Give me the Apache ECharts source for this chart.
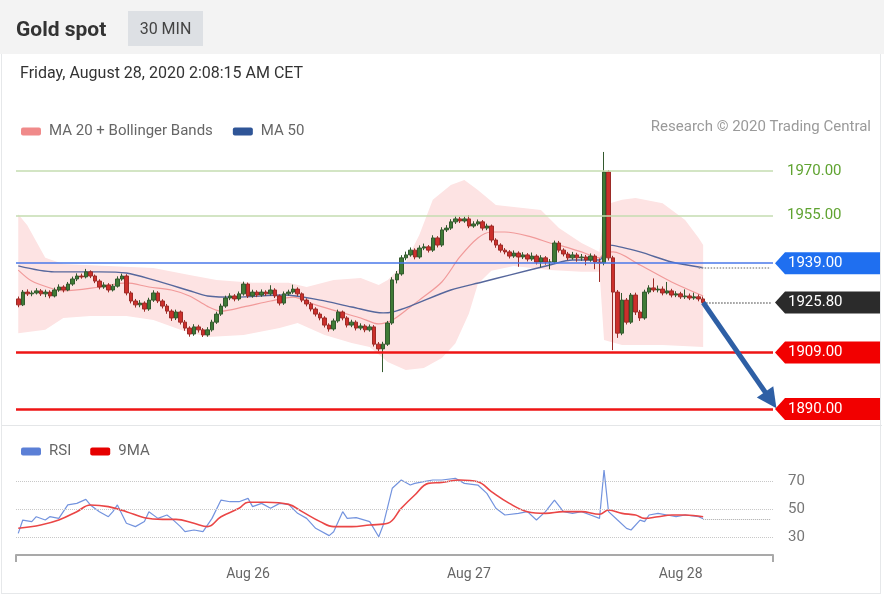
<!DOCTYPE html>
<html><head><meta charset="utf-8">
<script src="https://cdn.jsdelivr.net/npm/echarts@6/dist/echarts.min.js"></script>
<style>
html,body{margin:0;padding:0;background:#fff;}
#wrap{position:relative;width:884px;height:600px;overflow:hidden;font-family:Roboto,"Noto Sans",sans-serif;}
#frame{position:absolute;left:1px;top:0;width:880px;height:594px;border:1px solid #e6e8ea;box-sizing:border-box;}
#sep{position:absolute;left:2px;top:425px;width:880px;height:1px;background:#e4e6e8;}
#hdr{position:absolute;left:0;top:0;width:884px;height:54px;background:#f3f3f3;}
#title{position:absolute;left:16px;top:15px;font-size:21px;font-weight:bold;color:#333;line-height:28px;}
#tf{position:absolute;left:128px;top:11px;width:75px;height:35px;background:#dde0e4;color:#444;font-size:16px;line-height:35px;text-align:center;}
#date{position:absolute;left:20px;top:62px;font-size:16px;color:#333;line-height:22px;}
#chart{position:absolute;left:0;top:0;width:884px;height:600px;}
</style></head>
<body>
<div id="wrap">
  <div id="frame"></div>
  <div id="sep"></div>
  <div id="chart"></div>
  <div id="hdr"><div id="title">Gold spot</div><div id="tf">30 MIN</div></div>
  <div id="date">Friday, August 28, 2020 2:08:15 AM CET</div>
</div>
<script>
// ---------- DATA ----------
const slotCount = 168;
const dayLabelIndex = [51, 100, 147];
const dayLabelText = ['Aug 26', 'Aug 27', 'Aug 28'];

const opens = [1927.0,1925.0,1929.3,1928.7,1929.0,1929.7,1928.7,1929.3,1928.0,1930.0,
 1931.0,1930.0,1932.0,1933.7,1934.7,1934.4,1936.1,1934.7,1933.0,1931.0,
 1931.7,1930.0,1931.3,1933.7,1934.7,1929.0,1926.3,1925.0,1925.6,1923.6,
 1926.6,1929.0,1926.3,1924.6,1922.9,1920.6,1922.6,1919.2,1917.2,1915.2,
 1917.6,1916.6,1914.9,1916.6,1919.2,1921.9,1924.6,1927.3,1928.0,1927.0,
 1928.7,1932.0,1928.0,1929.3,1928.3,1929.3,1928.7,1930.0,1928.0,1925.6,
 1928.7,1929.3,1930.3,1928.7,1926.6,1925.3,1923.6,1921.9,1920.6,1918.2,
 1916.9,1919.6,1922.6,1920.6,1918.2,1919.2,1917.2,1917.9,1916.6,1917.6,
 1911.8,1910.2,1911.8,1918.9,1933.4,1935.4,1940.8,1941.8,1943.4,1941.1,
 1944.1,1944.5,1943.4,1947.5,1945.1,1950.2,1950.8,1952.9,1953.9,1953.2,
 1953.9,1951.5,1952.2,1952.9,1950.8,1951.5,1946.8,1945.1,1943.4,1942.8,
 1941.4,1942.4,1941.1,1941.8,1940.4,1941.4,1939.4,1940.8,1939.4,1939.4,
 1945.8,1943.4,1942.1,1940.8,1941.8,1940.8,1941.1,1940.1,1941.4,1939.4,
 1939.1,1969.7,1940.8,1929.3,1915.5,1926.6,1919.2,1928.3,1922.6,1920.6,
 1929.3,1930.7,1930.0,1930.3,1929.0,1929.7,1928.3,1928.7,1927.7,1928.0,
 1927.3,1927.7,1927.0];
const closes = [1925.0,1929.3,1928.7,1929.0,1929.7,1928.7,1929.3,1928.0,1930.0,1931.0,
 1930.0,1932.0,1933.7,1934.7,1934.4,1936.1,1934.7,1933.0,1931.0,1931.7,
 1930.0,1931.3,1933.7,1934.7,1929.0,1926.3,1925.0,1925.6,1923.6,1926.6,
 1929.0,1926.3,1924.6,1922.9,1920.6,1922.6,1919.2,1917.2,1915.2,1917.6,
 1916.6,1914.9,1916.6,1919.2,1921.9,1924.6,1927.3,1928.0,1927.0,1928.7,
 1932.0,1928.0,1929.3,1928.3,1929.3,1928.7,1930.0,1928.0,1925.6,1928.7,
 1929.3,1930.3,1928.7,1926.6,1925.3,1923.6,1921.9,1920.6,1918.2,1916.9,
 1919.6,1922.6,1920.6,1918.2,1919.2,1917.2,1917.9,1916.6,1917.6,1911.8,
 1910.2,1911.8,1918.9,1933.4,1935.4,1940.8,1941.8,1943.4,1941.1,1944.1,
 1944.5,1943.4,1947.5,1945.1,1950.2,1950.8,1952.9,1953.9,1953.2,1953.9,
 1951.5,1952.2,1952.9,1950.8,1951.5,1946.8,1945.1,1943.4,1942.8,1941.4,
 1942.4,1941.1,1941.8,1940.4,1941.4,1939.4,1940.8,1939.4,1939.4,1945.8,
 1943.4,1942.1,1940.8,1941.8,1940.8,1941.1,1940.1,1941.4,1939.4,1939.1,
 1969.7,1940.8,1929.3,1915.5,1926.6,1919.2,1928.3,1922.6,1920.6,1929.3,
 1930.7,1930.0,1930.3,1929.0,1929.7,1928.3,1928.7,1927.7,1928.0,1927.3,
 1927.7,1927.0,1925.8];
const highs = [1927.8,1930.0,1930.2,1929.8,1930.6,1930.3,1930.1,1929.9,1930.8,1931.9,
 1931.6,1932.7,1934.5,1935.6,1935.5,1937.1,1936.6,1935.2,1933.6,1932.6,
 1932.3,1932.0,1934.6,1935.5,1935.3,1929.6,1927.0,1926.6,1926.2,1927.4,
 1929.9,1929.6,1926.9,1925.3,1923.5,1923.4,1923.1,1919.9,1917.8,1918.5,
 1918.3,1917.2,1917.5,1920.0,1922.7,1925.4,1928.1,1928.9,1928.6,1929.5,
 1932.8,1932.5,1930.1,1929.9,1930.2,1929.9,1931.6,1930.6,1928.5,1929.5,
 1930.1,1931.8,1930.9,1929.2,1927.2,1925.9,1924.2,1922.5,1921.2,1918.8,
 1920.4,1923.4,1923.1,1921.2,1920.0,1919.8,1918.8,1918.5,1918.4,1918.2,
 1912.5,1912.6,1919.6,1934.3,1936.4,1941.7,1942.9,1944.3,1944.0,1945.0,
 1945.6,1945.1,1948.4,1948.1,1951.1,1951.8,1953.8,1954.9,1954.6,1954.7,
 1955.2,1953.1,1953.7,1953.5,1952.3,1952.0,1947.4,1945.7,1944.1,1943.4,
 1943.3,1943.0,1942.7,1942.4,1942.6,1942.0,1941.7,1941.4,1940.4,1946.6,
 1946.5,1944.0,1942.8,1942.8,1942.5,1942.1,1941.8,1942.3,1942.0,1940.6,
 1976.4,1970.3,1941.5,1930.0,1929.0,1927.3,1929.0,1929.1,1923.3,1930.1,
 1931.6,1933.9,1931.5,1931.2,1932.7,1930.4,1929.6,1929.4,1930.2,1928.8,
 1929.1,1928.5,1927.8];
const lows = [1924.2,1924.6,1928.0,1927.9,1928.5,1928.0,1927.6,1927.2,1927.5,1929.4,
 1929.2,1929.6,1931.4,1933.0,1933.8,1933.9,1934.0,1932.3,1930.2,1930.4,
 1929.2,1929.5,1930.8,1933.1,1928.2,1925.5,1924.1,1924.2,1922.7,1923.0,
 1926.0,1925.6,1923.8,1922.0,1919.6,1919.9,1918.4,1916.3,1914.3,1914.6,
 1915.7,1914.2,1914.3,1916.0,1918.6,1921.3,1924.0,1926.6,1926.2,1926.4,
 1928.1,1927.3,1927.4,1927.6,1927.7,1928.0,1928.1,1927.3,1924.8,1925.0,
 1928.1,1928.7,1928.0,1925.9,1924.5,1922.8,1921.1,1919.8,1917.4,1916.0,
 1916.3,1919.0,1919.8,1917.4,1917.5,1916.4,1916.5,1915.8,1916.0,1911.0,
 1909.4,1902.4,1911.2,1918.3,1932.2,1934.8,1940.0,1941.2,1940.3,1940.5,
 1943.4,1942.6,1942.8,1944.3,1944.5,1949.5,1950.2,1952.2,1952.5,1952.6,
 1950.8,1950.9,1951.6,1950.0,1950.1,1946.0,1944.2,1942.6,1942.0,1940.6,
 1940.8,1937.8,1940.4,1939.6,1939.8,1938.6,1937.6,1938.5,1937.0,1938.8,
 1942.6,1941.3,1940.0,1940.2,1939.5,1939.8,1938.3,1939.5,1937.0,1932.7,
 1938.3,1939.9,1909.8,1913.9,1914.8,1918.4,1918.6,1921.6,1919.6,1920.0,
 1928.6,1929.3,1929.2,1928.2,1928.5,1927.5,1927.6,1927.0,1927.0,1926.6,
 1926.7,1926.2,1925.1];

const ma20 = [[0,1936.7],[3,1933.0],[7,1930.7],[10,1929.7],[18,1931.0],[24,1932.4],[29,1931.0],[34,1930.0],[38,1928.0],[42,1924.5],[45,1922.9],[50,1924.3],[56,1926.3],[61,1927.6],[66,1925.0],[72,1922.3],[76,1920.6],[80,1918.6],[83,1919.9],[87,1924.3],[89,1926.6],[94,1932.7],[98,1941.1],[102,1947.5],[105,1949.5],[108,1949.5],[114,1947.8],[118,1945.8],[120,1945.1],[125,1942.8],[129,1940.8],[130,1942.4],[132,1942.8],[138,1938.4],[145,1932.7],[152,1928.0]];
const ma50 = [[0,1938.1],[8,1936.1],[18,1936.1],[24,1935.7],[30,1933.4],[39,1929.3],[42,1928.0],[48,1927.6],[59,1928.3],[67,1926.6],[74,1924.3],[81,1922.3],[83,1922.6],[87,1924.6],[96,1930.0],[103,1932.7],[109,1935.0],[118,1938.4],[123,1940.1],[129,1940.1],[131,1945.1],[138,1942.8],[145,1939.4],[152,1937.5]];
const bbUpper = [[0,1955.5],[2,1951.8],[6,1940.8],[10,1938.7],[20,1938.1],[30,1937.4],[38,1935.0],[44,1933.4],[52,1932.4],[60,1932.4],[64,1931.0],[70,1933.4],[76,1934.0],[80,1931.7],[82,1933.4],[86,1939.4],[89,1948.5],[92,1960.3],[96,1965.3],[99,1967.0],[102,1963.6],[106,1958.6],[112,1957.6],[116,1956.9],[120,1950.8],[125,1945.8],[129,1942.8],[130,1958.6],[134,1960.3],[137,1960.9],[143,1959.2],[148,1953.5],[151,1947.5],[152,1945.1]];
const bbLower = [[0,1915.5],[6,1916.6],[10,1920.6],[16,1921.3],[24,1921.3],[30,1919.9],[36,1916.6],[42,1914.2],[50,1914.9],[58,1917.2],[62,1918.9],[68,1914.9],[74,1912.2],[78,1910.8],[82,1905.8],[86,1903.1],[90,1903.8],[94,1907.1],[97,1912.0],[100,1922.0],[102,1932.0],[105,1936.5],[110,1938.1],[118,1936.7],[125,1936.1],[129,1936.1],[130,1913.2],[134,1911.5],[143,1911.5],[152,1910.8]];

const rsi = [[0,32.6],[1,42.1],[3,41.0],[4,44.5],[6,42.1],[7,44.5],[9,43.3],[11,52.9],[13,54.0],[15,56.9],[16,52.9],[18,48.1],[20,44.5],[21,48.1],[22,52.9],[24,39.8],[26,37.4],[28,41.0],[29,48.1],[31,43.3],[33,45.7],[34,43.3],[36,37.4],[37,33.8],[39,35.0],[41,33.8],[43,43.3],[45,56.4],[47,55.2],[49,55.2],[51,57.6],[52,51.7],[54,54.0],[56,50.5],[58,54.0],[60,53.3],[62,46.9],[64,43.3],[66,36.2],[69,31.0],[70,33.8],[72,48.1],[73,43.3],[75,43.8],[78,41.0],[80,30.2],[81,38.6],[83,64.8],[85,70.7],[87,67.1],[88,68.3],[90,69.5],[92,70.7],[94,70.7],[97,71.9],[99,68.3],[102,67.1],[104,61.2],[106,50.5],[108,45.7],[111,46.9],[113,48.1],[115,42.1],[117,48.1],[119,56.4],[121,48.1],[123,46.9],[125,48.1],[127,45.7],[129,43.3],[130,77.9],[131,48.1],[133,42.1],[135,36.2],[136,35.0],[138,42.1],[139,41.0],[140,45.7],[142,46.9],[144,45.7],[146,44.5],[148,45.7],[151,44.5],[152,43.0]];
const rsiMa = [[0,36.2],[5,38.6],[9,42.1],[13,48.1],[16,52.9],[20,51.7],[24,48.1],[28,43.8],[32,42.6],[35,42.6],[39,39.8],[42,37.4],[45,44.5],[49,50.5],[51,54.8],[55,54.8],[60,53.3],[63,48.1],[67,41.0],[70,37.4],[74,37.4],[78,38.6],[82,39.8],[85,50.5],[88,60.0],[91,68.3],[94,69.0],[98,70.7],[102,69.5],[105,62.4],[109,54.0],[113,48.1],[117,46.9],[121,48.1],[125,48.1],[129,46.2],[131,49.3],[134,46.9],[137,45.7],[139,43.3],[142,44.5],[145,45.7],[148,45.7],[152,44.5]];

const resistanceLevels = [1970, 1955];
const pivotLevel = 1939;
const supportLevels = [1909, 1890];
const lastPrice = 1925.8;
const lastMa50 = 1937.5;
const lastRsi = 43.0;
const rsiLevels = [30, 50, 70];
const arrowTarget = 1893;

// ---------- BUILD ----------
const categories = Array.from({length: slotCount}, (_, i) => String(i));
const candles = opens.map((o, i) => [o, closes[i], lows[i], highs[i]]);
const lastIdx = closes.length - 1;
const endIdx = slotCount - 1;
const FONT = 'Roboto, "Noto Sans", sans-serif';

const chart = echarts.init(document.getElementById('chart'));

const levelLines = [];
resistanceLevels.forEach(v => levelLines.push({
  yAxis: v, lineStyle: {color: '#c4ddb0', width: 1.5, type: 'solid'},
  label: {show: true, position: 'end', distance: 14, formatter: v.toFixed(2), color: '#5fa330', fontSize: 15, fontFamily: FONT}
}));
levelLines.push({yAxis: pivotLevel, lineStyle: {color: '#4a79ea', width: 1.5, type: 'solid'}, label: {show: false}});
supportLevels.forEach(v => levelLines.push({yAxis: v, lineStyle: {color: '#ee1515', width: 2.5, type: 'solid'}, label: {show: false}}));
levelLines.push([{coord: [lastIdx, lastPrice], lineStyle: {color: '#777', width: 1.5, type: 'dotted'}, label: {show: false}}, {coord: [endIdx, lastPrice]}]);
levelLines.push([{coord: [lastIdx - 1, lastMa50], lineStyle: {color: '#999', width: 1.5, type: 'dotted'}, label: {show: false}}, {coord: [endIdx, lastMa50]}]);

const rsiLines = rsiLevels.map(v => ({
  yAxis: v, lineStyle: {color: '#c8c8c8', width: 1, type: 'dotted'},
  label: {show: true, position: 'end', distance: 15, formatter: String(v), color: '#777', fontSize: 15, fontFamily: FONT}
}));
rsiLines.push([{coord: [lastIdx, lastRsi], lineStyle: {color: '#aaa', width: 1, type: 'dotted'}, label: {show: false}}, {coord: [endIdx, lastRsi]}]);

const legendText = {color: '#666', fontSize: 15, fontFamily: FONT, padding: [0, 0, 0, 3]};

const option = {
  animation: false,
  textStyle: {fontFamily: FONT},
  title: {text: 'Research \u00a9 2020 Trading Central', right: 8, top: 115,
    textStyle: {color: '#9a9a9a', fontSize: 15, fontWeight: 'normal', fontFamily: FONT}},
  legend: [
    {data: [{name: 'MA 20 + Bollinger Bands', itemStyle: {color: '#f08a8a'}}, {name: 'MA 50', itemStyle: {color: '#2f5597'}}],
     left: 16, top: 119, icon: 'roundRect', itemWidth: 20, itemHeight: 8, itemGap: 20, selectedMode: false,
     textStyle: legendText},
    {data: [{name: 'RSI', itemStyle: {color: '#5b7fd6'}}, {name: '9MA', itemStyle: {color: '#e60000'}}],
     left: 16, top: 439, icon: 'roundRect', itemWidth: 20, itemHeight: 8, itemGap: 19, selectedMode: false,
     textStyle: legendText}
  ],
  grid: [
    {left: 16, right: 111, top: 145, height: 280},
    {left: 16, right: 111, top: 460, height: 95}
  ],
  xAxis: [
    {type: 'category', gridIndex: 0, data: categories, boundaryGap: true, show: false},
    {type: 'category', gridIndex: 1, data: categories, boundaryGap: true,
     axisLine: {show: true, lineStyle: {color: '#a9a9a9', width: 2}},
     axisTick: {show: false}, splitLine: {show: false},
     axisLabel: {interval: (i) => dayLabelIndex.includes(i),
       formatter: (v, i) => { const k = dayLabelIndex.indexOf(i); return k >= 0 ? dayLabelText[k] : ''; },
       color: '#666', fontSize: 14, margin: 12, fontFamily: FONT}}
  ],
  yAxis: [
    {type: 'value', gridIndex: 0, min: 1884.62, max: 1978.74, show: false, splitLine: {show: false}},
    {type: 'value', gridIndex: 1, min: 17.143, max: 85, show: false, splitLine: {show: false}}
  ],
  series: [
    {type: 'custom', name: 'band', xAxisIndex: 0, yAxisIndex: 0, silent: true, z: 1,
     data: [[0, bbUpper[0][1]]],
     renderItem: (params, api) => {
       const pts = bbUpper.map(p => api.coord(p)).concat(bbLower.slice().reverse().map(p => api.coord(p)));
       return {type: 'polygon', shape: {points: pts}, style: {fill: '#fde3e3'}};
     }},
    {type: 'line', name: 'levels', xAxisIndex: 0, yAxisIndex: 0, data: [], z: 2, silent: true,
     markLine: {silent: true, symbol: 'none', animation: false, data: levelLines}},
    {type: 'line', name: 'MA 20 + Bollinger Bands', xAxisIndex: 0, yAxisIndex: 0, data: ma20, z: 3,
     showSymbol: false, smooth: 0.3, silent: true,
     lineStyle: {color: '#f19a9a', width: 1.2}, itemStyle: {color: '#f08a8a'}},
    {type: 'line', name: 'MA 50', xAxisIndex: 0, yAxisIndex: 0, data: ma50, z: 3,
     showSymbol: false, smooth: 0.3, silent: true,
     lineStyle: {color: '#56679c', width: 1.4}, itemStyle: {color: '#2f5597'}},
    {type: 'candlestick', name: 'Gold', xAxisIndex: 0, yAxisIndex: 0, data: candles, z: 4,
     barWidth: 4, silent: true,
     itemStyle: {color: '#3f7b36', color0: '#cc2f2b', borderColor: '#33592e', borderColor0: '#9c2b27', borderWidth: 1}},
    {type: 'line', name: 'arrow', xAxisIndex: 0, yAxisIndex: 0, data: [], z: 6, silent: true,
     markLine: {silent: true, symbol: ['none', 'triangle'], symbolSize: [20, 20], animation: false,
       lineStyle: {color: '#2e5fa5', width: 5, type: 'solid'}, label: {show: false},
       data: [[{coord: [lastIdx, lastPrice]}, {coord: [endIdx, arrowTarget]}]]}},
    {type: 'line', name: 'RSI', xAxisIndex: 1, yAxisIndex: 1, data: rsi, z: 3,
     showSymbol: false, silent: true,
     lineStyle: {color: '#7393de', width: 1.2}, itemStyle: {color: '#5b7fd6'},
     markLine: {silent: true, symbol: 'none', animation: false, data: rsiLines}},
    {type: 'line', name: '9MA', xAxisIndex: 1, yAxisIndex: 1, data: rsiMa, z: 4,
     showSymbol: false, smooth: 0.4, silent: true,
     lineStyle: {color: '#ea4646', width: 1.6}, itemStyle: {color: '#e60000'}}
  ]
};
chart.setOption(option);

// price tags drawn at positions given by the library's own y scale
const tagStyles = [
  {v: pivotLevel, fill: '#1f6ff0'},
  {v: lastPrice, fill: '#2b2b2b'},
  {v: supportLevels[0], fill: '#f20000'},
  {v: supportLevels[1], fill: '#f20000'}
];
const gfx = [];
tagStyles.forEach(t => {
  const y = chart.convertToPixel({yAxisIndex: 0}, t.v);
  gfx.push({type: 'polygon', z: 20, silent: true,
    shape: {points: [[775, y], [785, y - 11], [880, y - 11], [880, y + 11], [785, y + 11]]},
    style: {fill: t.fill}});
  gfx.push({type: 'text', z: 21, silent: true, x: 788, y: y,
    style: {text: t.v.toFixed(2), fill: '#fff', fontSize: 15, fontFamily: FONT, verticalAlign: 'middle', align: 'left'}});
});
// end ticks of the time axis
gfx.push({type: 'line', z: 20, silent: true, shape: {x1: 16, y1: 555, x2: 16, y2: 562}, style: {stroke: '#a9a9a9', lineWidth: 2}});
gfx.push({type: 'line', z: 20, silent: true, shape: {x1: 773, y1: 555, x2: 773, y2: 562}, style: {stroke: '#a9a9a9', lineWidth: 2}});
chart.setOption({graphic: gfx});
</script>
</body></html>
